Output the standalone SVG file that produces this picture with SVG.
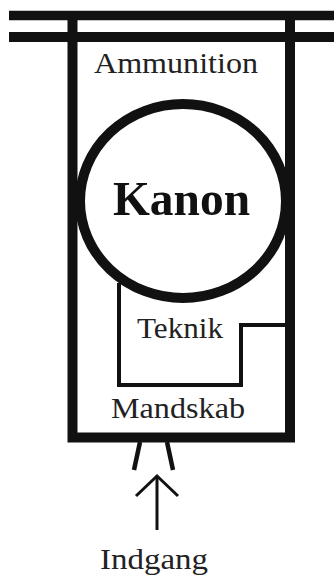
<svg xmlns="http://www.w3.org/2000/svg" width="334" height="577" viewBox="0 0 334 577">
  <style>
    .ink { fill: none; stroke: #111; stroke-linejoin: miter; stroke-linecap: butt; }
    .lbl { font-family: "Liberation Serif", "Times New Roman", serif; font-size: 29.5px; fill: #222; text-anchor: start; }
    .big { font-family: "Liberation Serif", "Times New Roman", serif; font-size: 49px; font-weight: bold; fill: #111; }
  </style>
  <rect width="334" height="577" fill="#fff"/>
  <g id="structure">
    <line class="ink" x1="9" y1="15.5" x2="334" y2="15.5" stroke-width="9.5"/>
    <line class="ink" x1="9" y1="37" x2="334" y2="37" stroke-width="10"/>
    <path class="ink" d="M72.5,20 V437.5 H290 V20" stroke-width="10"/>
  </g>
  <g id="ammunition">
    <text class="lbl" x="94" y="73" textLength="164" lengthAdjust="spacingAndGlyphs">Ammunition</text>
  </g>
  <g id="kanon">
    <ellipse class="ink" cx="183" cy="201" rx="103" ry="97" stroke-width="10"/>
    <text class="big" x="113" y="215" textLength="137" lengthAdjust="spacingAndGlyphs">Kanon</text>
  </g>
  <g id="teknik">
    <path class="ink" d="M119,283 V385 H241 V325 H290" stroke-width="4"/>
    <text class="lbl" x="137" y="338" textLength="86" lengthAdjust="spacingAndGlyphs">Teknik</text>
  </g>
  <g id="mandskab">
    <text class="lbl" x="111" y="418" textLength="134" lengthAdjust="spacingAndGlyphs">Mandskab</text>
  </g>
  <g id="connectors">
    <line class="ink" x1="140" y1="442" x2="134" y2="470" stroke-width="4.5"/>
    <line class="ink" x1="167" y1="442" x2="173" y2="470" stroke-width="4.5"/>
    <line class="ink" x1="157" y1="530" x2="157" y2="477" stroke-width="3"/>
    <polyline class="ink" points="136,496 157,476 178,496" stroke-width="3"/>
  </g>
  <g id="indgang">
    <text class="lbl" x="100" y="569" textLength="108" lengthAdjust="spacingAndGlyphs">Indgang</text>
  </g>
</svg>
